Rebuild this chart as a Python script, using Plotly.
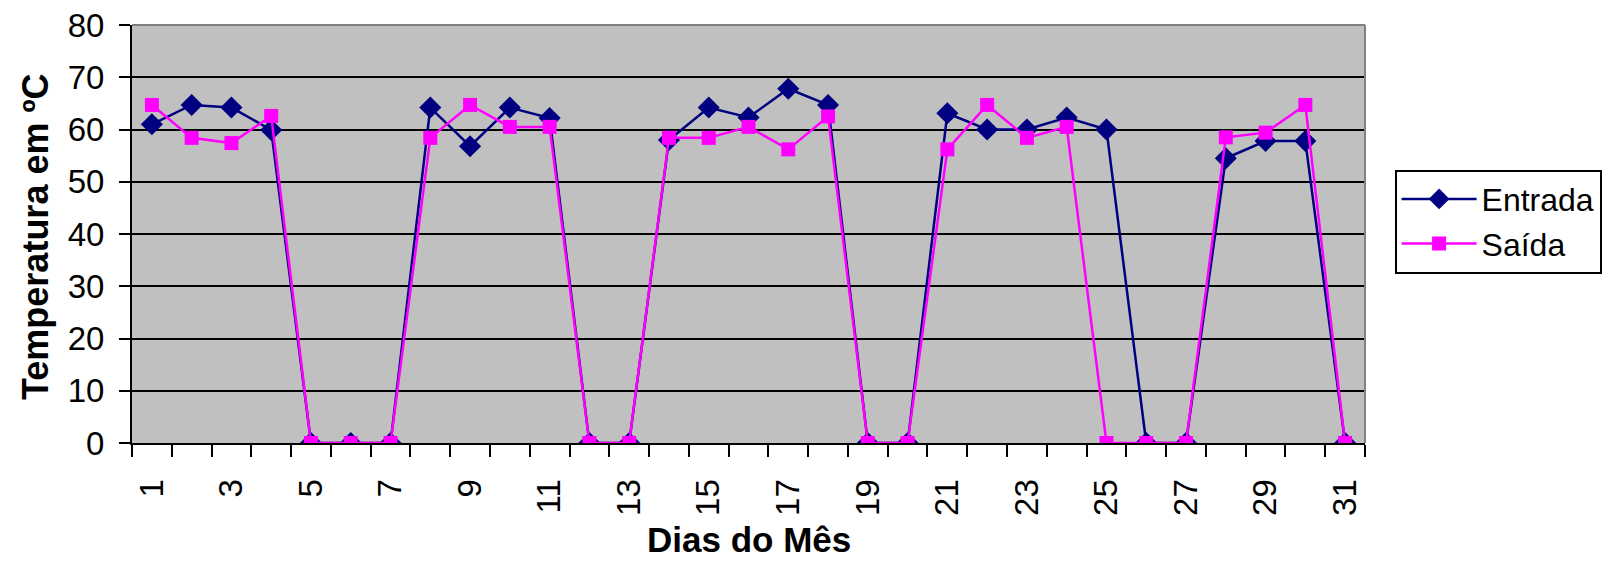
import plotly.graph_objects as go

dias = list(range(1, 32))
entrada = [61.0, 64.7, 64.2, 59.9, 0, 0, 0, 64.2, 56.8, 64.2, 62.2, 0, 0, 58.0,
           64.2, 62.3, 67.8, 64.7, 0, 0, 63.1, 60.0, 60.0, 62.3, 60.0, 0, 0,
           54.5, 57.8, 57.8, 0]
saida = [64.7, 58.4, 57.4, 62.6, 0, 0, 0, 58.4, 64.7, 60.5, 60.5, 0, 0, 58.4,
         58.4, 60.5, 56.2, 62.5, 0, 0, 56.2, 64.7, 58.4, 60.5, 0, 0, 0,
         58.5, 59.4, 64.7, 0]
tick_labels = [str(d) for d in range(1, 32, 2)]

fig = go.Figure()
fig.add_trace(go.Scatter(x=dias, y=entrada, name="Entrada", mode="lines+markers",
                         line=dict(color="#000080", width=2.5),
                         marker=dict(symbol="diamond", size=17, color="#000080")))
fig.add_trace(go.Scatter(x=dias, y=saida, name="Saída", mode="lines+markers",
                         line=dict(color="#FF00FF", width=2.5),
                         marker=dict(symbol="square", size=14, color="#FF00FF")))

font = "Liberation Sans, Arial, sans-serif"
fig.update_layout(
    width=1618, height=561,
    margin=dict(l=132, r=253, t=25, b=118, autoexpand=False),
    paper_bgcolor="white", plot_bgcolor="#C0C0C0",
    font=dict(family=font, size=33, color="black"),
    showlegend=True,
    legend=dict(x=1.024, y=0.654, xanchor="left", yanchor="top",
                bgcolor="white", bordercolor="black", borderwidth=2,
                font=dict(size=32), tracegroupgap=0, itemwidth=75),
    xaxis=dict(range=[0.5, 31.5], tickmode="array", tickvals=list(range(1, 32, 2)),
               ticktext=tick_labels, tickangle=-90, ticks="", showgrid=False,
               ticklabelstandoff=21, automargin=False,
               showline=True, linecolor="black", linewidth=2, zeroline=False,
               minor=dict(tickmode="array", tickvals=[i + 0.5 for i in range(0, 32)],
                          ticks="outside", ticklen=12, tickwidth=2, tickcolor="black",
                          showgrid=False)),
    yaxis=dict(range=[0, 80], tickmode="linear", tick0=0, dtick=10,
               ticks="outside", ticklen=11, tickwidth=2, tickcolor="black",
               ticklabelstandoff=8, automargin=False,
               showgrid=True, gridcolor="black", gridwidth=2,
               showline=True, linecolor="black", linewidth=2, zeroline=False),
)
fig.add_annotation(text="<b>Dias do Mês</b>", xref="paper", yref="paper",
                   x=0.5, y=-0.232, xanchor="center", yanchor="middle",
                   showarrow=False, font=dict(size=35), borderpad=0)
fig.add_annotation(text="<b>Temperatura em ºC</b>", xref="paper", yref="paper",
                   x=-0.0778, y=0.493, xanchor="center", yanchor="middle",
                   textangle=-90, showarrow=False, font=dict(size=36))
# gray top/right border of the plot area
fig.add_shape(type="line", xref="paper", yref="paper", x0=0, x1=1, y0=1, y1=1,
              line=dict(color="#808080", width=2))
fig.add_shape(type="line", xref="paper", yref="paper", x0=1, x1=1, y0=0, y1=1,
              line=dict(color="#808080", width=2))

fig.write_html("out.html", config={"displayModeBar": False},
               post_script="document.body.style.margin='0px';document.body.style.overflow='hidden';")
